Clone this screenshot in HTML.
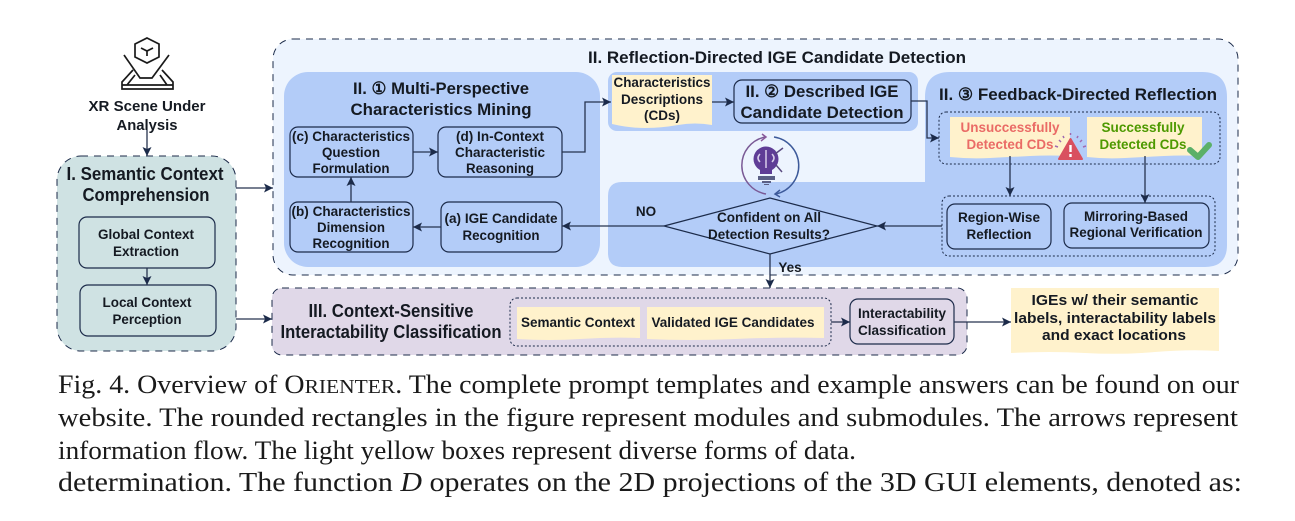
<!DOCTYPE html>
<html><head><meta charset="utf-8"><style>
html,body{margin:0;padding:0;background:#fff;width:1295px;height:521px;overflow:hidden}
svg{display:block}
text{font-family:"Liberation Sans",sans-serif;font-weight:bold;fill:#151a22;text-anchor:middle;lengthAdjust:spacingAndGlyphs}
.c{font-family:"Liberation Serif",serif;font-weight:normal;text-anchor:start;fill:#1a1a1a;font-size:26px}
.n{fill:none;stroke:#1c2b4a;stroke-width:1.2}
.l{fill:none;stroke:#26334f;stroke-width:1.3}
.d{stroke:#1c2b4a;stroke-width:1;stroke-dasharray:7 6}
.dot{fill:none;stroke:#1c2b4a;stroke-width:1;stroke-dasharray:2 2}
.y{fill:#fff2cc}
</style></head><body>
<svg width="1295" height="521" viewBox="0 0 1295 521" xmlns="http://www.w3.org/2000/svg">
<defs><marker id="a" markerUnits="userSpaceOnUse" markerWidth="10" markerHeight="10" refX="9" refY="4.500" orient="auto"><path d="M0 0L9 4.500L0 9L2 4.500Z" fill="#1c2b4a"/></marker></defs>

<!-- containers -->
<rect x="57" y="156" width="179" height="195" rx="24" fill="#cfe2e3" class="d"/>
<rect x="273" y="39" width="965" height="236" rx="20" fill="#edf4fe" class="d"/>
<rect x="272" y="288" width="695" height="67" rx="10" fill="#e0d8e8" class="d"/>

<rect x="284" y="72" width="316" height="195" rx="24" fill="#b3ccf8"/>
<rect x="608" y="72" width="310" height="59" rx="9" fill="#b3ccf8"/>
<path d="M622 182H925V97Q925 72 950 72H1202Q1227 72 1227 97V245Q1227 267 1205 267H622Q608 267 608 253V196Q608 182 622 182Z" fill="#b3ccf8"/>

<!-- XR icon -->
<g fill="none" stroke="#1a1a1a" stroke-width="1.700">
<path d="M147 38L159 44V57L147 63L135 57V44Z"/>
<path d="M141 48L147 51L153 48M147 51V56"/>
<path d="M124 55L140 78H152L169 55"/>
<path d="M133 70L122 82V89H173V82L162 70"/>
<path d="M122 85H173M135 75L127 85M160 75L167 85"/>
</g>
<text x="147" y="111" font-size="14.500" textLength="117" lengthAdjust="spacingAndGlyphs">XR Scene Under</text>
<text x="147" y="130" font-size="14.500" textLength="61" lengthAdjust="spacingAndGlyphs">Analysis</text>

<text x="145" y="180" font-size="18" textLength="157" lengthAdjust="spacingAndGlyphs">I. Semantic Context</text>
<text x="146" y="201" font-size="18" textLength="127" lengthAdjust="spacingAndGlyphs">Comprehension</text>
<rect x="79" y="217" width="136" height="51" rx="8" fill="none" class="n"/>
<rect x="80" y="285" width="136" height="51" rx="8" fill="none" class="n"/>
<text x="146" y="239" font-size="13.500" textLength="96" lengthAdjust="spacingAndGlyphs">Global Context</text>
<text x="146" y="256" font-size="13.500" textLength="66" lengthAdjust="spacingAndGlyphs">Extraction</text>
<text x="147" y="307" font-size="13.500" textLength="89" lengthAdjust="spacingAndGlyphs">Local Context</text>
<text x="147" y="324" font-size="13.500" textLength="69" lengthAdjust="spacingAndGlyphs">Perception</text>

<text x="777" y="63" font-size="16.500" textLength="378" lengthAdjust="spacingAndGlyphs">II. Reflection-Directed IGE Candidate Detection</text>

<!-- panel 1 -->
<text x="441" y="94" font-size="17" textLength="176" lengthAdjust="spacingAndGlyphs">II. ① Multi-Perspective</text>
<text x="441" y="115" font-size="17" textLength="181" lengthAdjust="spacingAndGlyphs">Characteristics Mining</text>
<rect x="290" y="127" width="123" height="50" rx="8" fill="none" class="n"/>
<rect x="438" y="127" width="124" height="50" rx="8" fill="none" class="n"/>
<rect x="290" y="202" width="123" height="50" rx="8" fill="none" class="n"/>
<rect x="441" y="202" width="121" height="50" rx="8" fill="none" class="n"/>
<text x="351" y="141" font-size="13.500" textLength="118" lengthAdjust="spacingAndGlyphs">(c) Characteristics</text>
<text x="351" y="157" font-size="13.500" textLength="58" lengthAdjust="spacingAndGlyphs">Question</text>
<text x="351" y="173" font-size="13.500" textLength="77" lengthAdjust="spacingAndGlyphs">Formulation</text>
<text x="500" y="141" font-size="13.500" textLength="88" lengthAdjust="spacingAndGlyphs">(d) In-Context</text>
<text x="500" y="157" font-size="13.500" textLength="90" lengthAdjust="spacingAndGlyphs">Characteristic</text>
<text x="500" y="173" font-size="13.500" textLength="68" lengthAdjust="spacingAndGlyphs">Reasoning</text>
<text x="351" y="216" font-size="13.500" textLength="119" lengthAdjust="spacingAndGlyphs">(b) Characteristics</text>
<text x="351" y="232" font-size="13.500" textLength="68" lengthAdjust="spacingAndGlyphs">Dimension</text>
<text x="351" y="248" font-size="13.500" textLength="77" lengthAdjust="spacingAndGlyphs">Recognition</text>
<text x="501" y="223" font-size="13.500" textLength="113" lengthAdjust="spacingAndGlyphs">(a) IGE Candidate</text>
<text x="501" y="240" font-size="13.500" textLength="77" lengthAdjust="spacingAndGlyphs">Recognition</text>

<!-- panel 2 -->
<path class="y" d="M612 75H712V125Q695 122 678 125T645 128T612 124Z"/>
<text x="662" y="87" font-size="13.500" textLength="97" lengthAdjust="spacingAndGlyphs">Characteristics</text>
<text x="662" y="104" font-size="13.500" textLength="82" lengthAdjust="spacingAndGlyphs">Descriptions</text>
<text x="662" y="120" font-size="13.500" textLength="36" lengthAdjust="spacingAndGlyphs">(CDs)</text>
<rect x="734" y="80" width="177" height="43" rx="8" fill="none" class="n"/>
<text x="822" y="97" font-size="17" textLength="153" lengthAdjust="spacingAndGlyphs">II. ② Described IGE</text>
<text x="822" y="118" font-size="17" textLength="163" lengthAdjust="spacingAndGlyphs">Candidate Detection</text>

<!-- panel 3 -->
<text x="1078" y="100" font-size="17" textLength="278" lengthAdjust="spacingAndGlyphs">II. ③ Feedback-Directed Reflection</text>
<rect x="939" y="112" width="281" height="52" rx="7" class="dot"/>
<path class="y" d="M950 117H1070V156Q1050 155 1030 156T990 158T950 157Z"/>
<path class="y" d="M1087 117H1202V156Q1183 155 1164 156T1125 158T1087 157Z"/>
<text x="1010" y="132" font-size="13.500" style="fill:#ea6b66" textLength="99" lengthAdjust="spacingAndGlyphs">Unsuccessfully</text>
<text x="1010" y="149" font-size="13.500" style="fill:#ea6b66" textLength="87" lengthAdjust="spacingAndGlyphs">Detected CDs</text>
<text x="1143" y="132" font-size="13.500" style="fill:#4d9900" textLength="83" lengthAdjust="spacingAndGlyphs">Successfully</text>
<text x="1143" y="149" font-size="13.500" style="fill:#4d9900" textLength="87" lengthAdjust="spacingAndGlyphs">Detected CDs</text>
<!-- warning -->
<path d="M1070.500 139L1082 159H1059Z" fill="#d9505f" stroke="#d9505f" stroke-width="2" stroke-linejoin="round"/>
<path d="M1070.500 145V152M1070.500 154V157" stroke="#fff" stroke-width="2.400"/>
<path d="M1061 142l-2 -2M1064 138l-1 -2M1070.500 135v-2M1077 138l1 -2M1080 142l2 -2M1083 147l3 -1M1058 147l-3 -1" stroke="#a06ab0" stroke-width="1.500"/>
<!-- check -->
<path d="M1190 150L1198 157L1209 145" fill="none" stroke="#5bb068" stroke-width="6" stroke-linecap="round" stroke-linejoin="round"/>

<rect x="942" y="196" width="273" height="60" rx="7" class="dot"/>
<rect x="947" y="204" width="104" height="45" rx="8" fill="none" class="n"/>
<rect x="1064" y="203" width="145" height="45" rx="8" fill="none" class="n"/>
<text x="999" y="222" font-size="13.500" textLength="82" lengthAdjust="spacingAndGlyphs">Region-Wise</text>
<text x="999" y="239" font-size="13.500" textLength="65" lengthAdjust="spacingAndGlyphs">Reflection</text>
<text x="1136" y="221" font-size="13.500" textLength="104" lengthAdjust="spacingAndGlyphs">Mirroring-Based</text>
<text x="1136" y="237" font-size="13.500" textLength="133" lengthAdjust="spacingAndGlyphs">Regional Verification</text>

<!-- icon -->
<g fill="none" stroke-width="1.500">
<path d="M765 137A29 29 0 0 0 766 194" stroke="#7a5a96"/>
<path d="M774 137A29 29 0 0 1 776 194" stroke="#3d5a9a"/>
</g>
<path d="M762 134L766 137L761 141" fill="none" stroke="#8a5a9a" stroke-width="1.500"/>
<path d="M780 190L775 194L780 197" fill="none" stroke="#3d5a9a" stroke-width="1.500"/>
<circle cx="766" cy="159" r="12.500" fill="#5f3d96"/>
<path d="M760 168H772V174H760Z" fill="#5f3d96"/>
<path d="M758 176H775V180H758ZM762 181H771V183H762ZM764 184H769V185H764Z" fill="#5a5f85"/>
<path d="M766 150V168M760 154Q756 158 760 162M772 154Q776 158 772 162" stroke="#d8cdea" stroke-width="1.500" fill="none"/>
<path d="M775 154L783 148M776 165L782 172" stroke="#5a4a80" stroke-width="1.500"/>

<!-- decision -->
<path d="M664 226L770 198L877 226L770 254Z" fill="none" class="n"/>
<text x="769" y="222" font-size="13.500" textLength="104" lengthAdjust="spacingAndGlyphs">Confident on All</text>
<text x="769" y="239" font-size="13.500" textLength="122" lengthAdjust="spacingAndGlyphs">Detection Results?</text>
<text x="646" y="216" font-size="13.500">NO</text>
<text x="790" y="272" font-size="13.500">Yes</text>

<!-- section III -->
<text x="391" y="317" font-size="18" textLength="165" lengthAdjust="spacingAndGlyphs">III. Context-Sensitive</text>
<text x="391" y="338" font-size="18" textLength="221" lengthAdjust="spacingAndGlyphs">Interactability Classification</text>
<rect x="510" y="298" width="321" height="48" rx="7" class="dot"/>
<path class="y" d="M517 307H640V338Q610 337 580 339T517 339Z"/>
<path class="y" d="M647 307H824V338Q780 337 735 339T647 339Z"/>
<text x="578" y="327" font-size="14" textLength="114" lengthAdjust="spacingAndGlyphs">Semantic Context</text>
<text x="733" y="327" font-size="14" textLength="163" lengthAdjust="spacingAndGlyphs">Validated IGE Candidates</text>
<rect x="850" y="299" width="104" height="45" rx="8" fill="none" class="n"/>
<text x="902" y="318" font-size="14" textLength="88" lengthAdjust="spacingAndGlyphs">Interactability</text>
<text x="902" y="335" font-size="14" textLength="88" lengthAdjust="spacingAndGlyphs">Classification</text>

<!-- output -->
<path class="y" d="M1011 288H1219V351Q1190 349 1155 352T1085 353T1011 353Z"/>
<text x="1115" y="305" font-size="15" textLength="167" lengthAdjust="spacingAndGlyphs">IGEs w/ their semantic</text>
<text x="1115" y="323" font-size="15" textLength="202" lengthAdjust="spacingAndGlyphs">labels, interactability labels</text>
<text x="1114" y="340" font-size="15" textLength="144" lengthAdjust="spacingAndGlyphs">and exact locations</text>

<!-- connectors -->
<g>
<path class="l" marker-end="url(#a)" d="M147 130V156"/>
<path class="l" marker-end="url(#a)" d="M236 188H273"/>
<path class="l" marker-end="url(#a)" d="M236 319H272"/>
<path class="l" marker-end="url(#a)" d="M147 268V285"/>
<path class="l" marker-end="url(#a)" d="M413 152H438"/>
<path class="l" marker-end="url(#a)" d="M351 202V177"/>
<path class="l" marker-end="url(#a)" d="M441 227H413"/>
<path class="l" marker-end="url(#a)" d="M562 152H585V102H611"/>
<path class="l" marker-end="url(#a)" d="M712 102H734"/>
<path class="l" marker-end="url(#a)" d="M911 101H927V138H939"/>
<path class="l" marker-end="url(#a)" d="M1010 156V196"/>
<path class="l" marker-end="url(#a)" d="M1145 156V203"/>
<path class="l" marker-end="url(#a)" d="M942 226H877"/>
<path class="l" marker-end="url(#a)" d="M664 226H562"/>
<path class="l" marker-end="url(#a)" d="M770 254V288"/>
<path class="l" marker-end="url(#a)" d="M831 322H850"/>
<path class="l" marker-end="url(#a)" d="M954 322H1011"/>
</g>

<!-- caption -->
<text class="c" x="58" y="393" textLength="1181" lengthAdjust="spacingAndGlyphs">Fig. 4.  Overview of O<tspan font-size="20">RIENTER</tspan>. The complete prompt templates and example answers can be found on our</text>
<text class="c" x="58" y="426" textLength="1180" lengthAdjust="spacingAndGlyphs">website. The rounded rectangles in the figure represent modules and submodules. The arrows represent</text>
<text class="c" x="58" y="459" textLength="798" lengthAdjust="spacingAndGlyphs">information flow. The light yellow boxes represent diverse forms of data.</text>
<text class="c" x="58" y="491" style="font-size:27px" textLength="1184" lengthAdjust="spacingAndGlyphs">determination. The function <tspan font-style="italic">D</tspan> operates on the 2D projections of the 3D GUI elements, denoted as:</text>
</svg>
</body></html>
